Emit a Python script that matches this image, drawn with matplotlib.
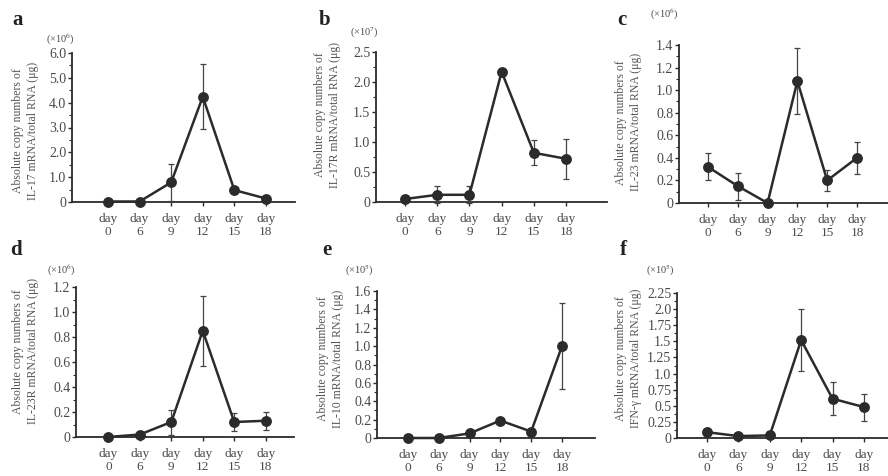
import matplotlib
matplotlib.use("Agg")
import matplotlib.pyplot as plt
from matplotlib.ticker import MultipleLocator, FixedLocator, FixedFormatter

plt.rcParams['font.family'] = ['Liberation Serif', 'DejaVu Serif']
plt.rcParams['mathtext.fontset'] = 'stix'

days = ["day\n0", "day\n6", "day\n9", "day\n12", "day\n15", "day\n18"]

# panel a: IL-17 (x10^6)
a_mean = [0.02, 0.02, 0.79, 4.24, 0.48, 0.14]
a_err = [0.0, 0.0, 0.76, 1.32, 0.03, 0.03]
# panel b: IL-17R (x10^7)
b_mean = [0.05, 0.12, 0.12, 2.17, 0.82, 0.72]
b_err = [0.01, 0.14, 0.14, 0.03, 0.21, 0.33]
# panel c: IL-23 (x10^6)
c_mean = [0.32, 0.15, 0.0, 1.08, 0.20, 0.40]
c_err = [0.12, 0.12, 0.0, 0.29, 0.095, 0.14]
# panel d: IL-23R (x10^6)
d_mean = [0.0, 0.02, 0.12, 0.85, 0.12, 0.13]
d_err = [0.0, 0.01, 0.10, 0.28, 0.07, 0.07]
# panel e: IL-10 (x10^5)
e_mean = [0.0, 0.0, 0.05, 0.19, 0.07, 1.0]
e_err = [0.0, 0.0, 0.04, 0.01, 0.01, 0.47]
# panel f: IFN-gamma (x10^5)
f_mean = [0.09, 0.03, 0.04, 1.52, 0.61, 0.48]
f_err = [0.04, 0.01, 0.02, 0.48, 0.26, 0.21]

panels = [
    dict(letter="a", gene="IL-17", unit="(\u00d710$^{6}$)", mean=a_mean, err=a_err,
         ymax=6.0, major=1.0, minor=0.5,
         box=(72, 295, 53, 202), xl=(-1.14, 5.92), lab=(-0.21, 0.48),
         ltr=(18, 20), upos=(60, 39)),
    dict(letter="b", gene="IL-17R", unit="(\u00d710$^{7}$)", mean=b_mean, err=b_err,
         ymax=2.5, major=0.5, minor=0.25,
         box=(376, 607, 52, 202), xl=(-0.9, 6.27), lab=(-0.21, 0.58),
         ltr=(325, 20), upos=(364, 33)),
    dict(letter="c", gene="IL-23", unit="(\u00d710$^{6}$)", mean=c_mean, err=c_err,
         ymax=1.4, major=0.2, minor=0.1,
         box=(679, 888, 45, 203), xl=(-0.97, 6.04), lab=(-0.24, 0.51),
         ltr=(622, 20), upos=(664, 14)),
    dict(letter="d", gene="IL-23R", unit="(\u00d710$^{6}$)", mean=d_mean, err=d_err,
         ymax=1.2, major=0.2, minor=0.1,
         box=(76, 294, 287, 437), xl=(-1.03, 5.9), lab=(-0.23, 0.57),
         ltr=(16, 250), upos=(61, 270)),
    dict(letter="e", gene="IL-10", unit="(\u00d710$^{5}$)", mean=e_mean, err=e_err,
         ymax=1.6, major=0.2, minor=0.1,
         box=(377, 595, 291, 438), xl=(-1.0, 6.07), lab=(-0.215, 0.54),
         ltr=(327, 250), upos=(359, 270)),
    dict(letter="f", gene="IFN-\u03b3", unit="(\u00d710$^{5}$)", mean=f_mean, err=f_err,
         ymax=2.25, major=0.25, minor=0.125,
         box=(677, 888, 293, 438), xl=(-0.96, 5.77), lab=(-0.23, 0.55),
         ltr=(623, 250), upos=(660, 270)),
]


def fmt_tick(t):
    if abs(t) < 1e-9:
        return "0"
    if abs(t * 10 - round(t * 10)) < 1e-9:
        return "{:.1f}".format(t)
    return "{:.2f}".format(t)


W, H = 888, 476
fig = plt.figure(figsize=(W / 100, H / 100), dpi=100)
fig.patch.set_facecolor("white")

line_c = "#2b2b2b"
text_c = "#4a4a4a"

for p in panels:
    x0, x1, yt, yb = p["box"]
    ax = fig.add_axes([x0 / W, 1 - yb / H, (x1 - x0) / W, (yb - yt) / H])
    xs = list(range(len(days)))
    ax.errorbar(xs, p["mean"], yerr=p["err"], color=line_c, lw=1.8,
                marker="o", ms=6.8, mfc=line_c, mec=line_c,
                ecolor="#444444", elinewidth=0.9, capsize=2.5, capthick=0.9,
                zorder=3, clip_on=False)
    ax.set_xlim(*p["xl"])
    ax.set_ylim(0, p["ymax"])
    ax.set_xticks(xs)
    ax.set_xticklabels(days, fontsize=9.5, color=text_c, linespacing=1.1)
    ax.yaxis.set_major_locator(MultipleLocator(p["major"]))
    ax.yaxis.set_minor_locator(MultipleLocator(p["minor"]))
    ticks = ax.get_yticks()
    ticks = [t for t in ticks if -1e-9 <= t <= p["ymax"] + 1e-9]
    ax.yaxis.set_major_locator(FixedLocator(ticks))
    ax.yaxis.set_major_formatter(FixedFormatter([fmt_tick(t) for t in ticks]))
    for lbl in ax.get_yticklabels():
        lbl.set_fontsize(10)
        lbl.set_color(text_c)
    for s in ("top", "right"):
        ax.spines[s].set_visible(False)
    for s in ("left", "bottom"):
        ax.spines[s].set_color(line_c)
        ax.spines[s].set_linewidth(1.3)
    ax.tick_params(axis="y", which="major", length=3, width=1.0, color=line_c, pad=1)
    ax.tick_params(axis="y", which="minor", length=2, width=0.8, color=line_c)
    ax.tick_params(axis="x", which="major", length=3, width=1.0, color=line_c, pad=5)
    ax.set_facecolor("none")
    ax.text(p["lab"][0], p["lab"][1],
            "Absolute copy numbers of\n" + p["gene"] + " mRNA/total RNA (\u03bcg)",
            transform=ax.transAxes, rotation=90, ha="center", va="center",
            fontsize=8.5, color="#555555", linespacing=1.35)
    fig.text(p["ltr"][0] / W, 1 - p["ltr"][1] / H, p["letter"], fontsize=15,
             fontweight="bold", ha="center", va="center", color="#222222")
    fig.text(p["upos"][0] / W, 1 - p["upos"][1] / H, p["unit"], fontsize=7.5,
             ha="center", va="center", color=text_c)

fig.savefig("out.png", dpi=100, facecolor="white")
